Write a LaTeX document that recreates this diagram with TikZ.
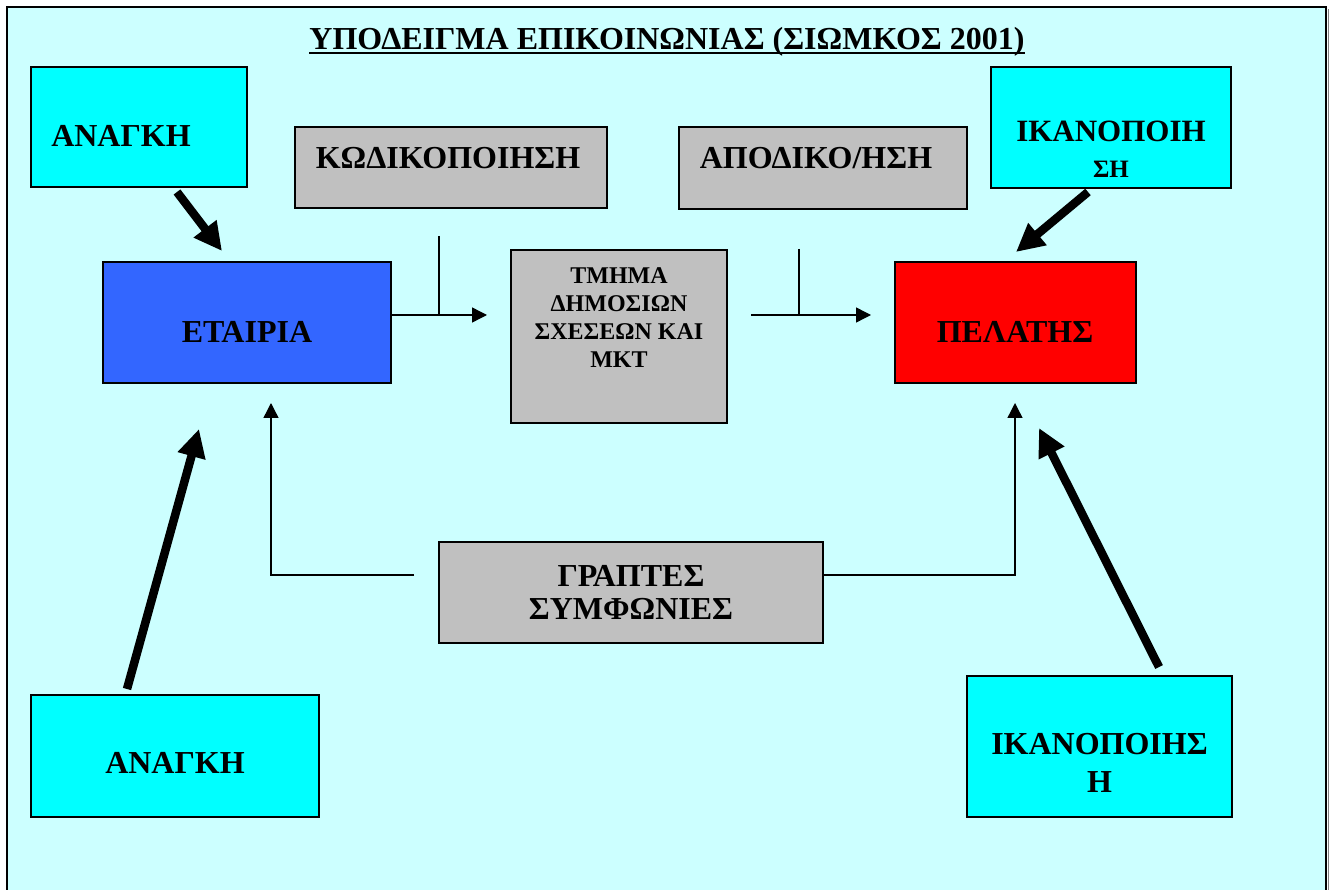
\documentclass[tikz,border=0pt]{standalone}
\usepackage{fontspec}
\setmainfont{Liberation Serif}
\usetikzlibrary{arrows.meta,calc}
\definecolor{bg}{HTML}{CCFFFF}
\definecolor{cyanbox}{HTML}{00FFFF}
\definecolor{graybox}{HTML}{C0C0C0}
\definecolor{bluebox}{HTML}{3366FF}
\definecolor{redbox}{HTML}{FF0000}
\definecolor{shadowgray}{HTML}{808080}
\newcommand{\nudge}[3]{\raisebox{#2}[\height][\depth]{\hspace*{#1}#3\hspace*{-#1}}}
\tikzset{
  box/.style={draw=black, line width=2pt, inner sep=0pt, align=center,
    font=\fontsize{32}{38}\selectfont\bfseries},
  cyanb/.style={box, fill=cyanbox},
  grayb/.style={box, fill=graybox},
  thinarrow/.style={line width=1.4pt, -{Triangle[length=15pt,width=15pt]}},
  thinline/.style={line width=1.4pt},
  thickarrow/.style={line width=8.5pt, -{Triangle[length=28pt,width=27pt]}},
}
\begin{document}
\begin{tikzpicture}[x=1pt,y=-1pt]
\useasboundingbox (0,0) rectangle (1331,890);
\clip (0,0) rectangle (1331,890);
\fill[white] (0,0) rectangle (1331,890);
\fill[bg] (7,7) rectangle (1326,900);
\draw[shadowgray, line width=1.5pt] (1328.5,9) -- (1328.5,900);
\draw[line width=2pt] (7,900) -- (7,7) -- (1326,7) -- (1326,900);

% title
\node[inner sep=0pt, anchor=base, font=\fontsize{32}{38}\selectfont\bfseries] (title) at (667,50)
  {ΥΠΟΔΕΙΓΜΑ ΕΠΙΚΟΙΝΩΝΙΑΣ (ΣΙΩΜΚΟΣ 2001)};
\draw[line width=2.5pt] ([yshift=-3pt]title.base west) -- ([yshift=-3pt]title.base east);

% boxes
\node[cyanb, minimum width=216pt, minimum height=120pt] (anA) at (139,127)
  {\nudge{-18pt}{-9pt}{ΑΝΑΓΚΗ}};
\node[grayb, minimum width=312pt, minimum height=81pt] (kod) at (451,168)
  {\nudge{-3pt}{10pt}{ΚΩΔΙΚΟΠΟΙΗΣΗ}};
\node[grayb, minimum width=288pt, minimum height=82pt] (apod) at (823,168)
  {\nudge{-7pt}{10pt}{ΑΠΟΔΙΚΟ/ΗΣΗ}};
\node[cyanb, minimum width=240pt, minimum height=121pt] (ikA) at (1111,127.5)
  {\nudge{0pt}{-24pt}{\begin{tabular}{@{}c@{}}{\fontsize{31}{36}\selectfont ΙΚΑΝΟΠΟΙΗ}\\[-2pt]{\fontsize{25}{28}\selectfont ΣΗ}\end{tabular}}};
\node[box, fill=bluebox, minimum width=288pt, minimum height=121pt] (etair) at (247,322.5)
  {\nudge{0pt}{-9pt}{ΕΤΑΙΡΙΑ}};
\node[grayb, minimum width=216pt, minimum height=173pt] (tmima) at (619,336.5)
  {\nudge{0pt}{17pt}{\fontsize{24}{28}\selectfont\begin{tabular}{@{}c@{}}ΤΜΗΜΑ\\ΔΗΜΟΣΙΩΝ\\ΣΧΕΣΕΩΝ ΚΑΙ\\ΜΚΤ\end{tabular}}};
\node[box, fill=redbox, minimum width=241pt, minimum height=121pt] (pel) at (1015,322.5)
  {\nudge{0pt}{-9pt}{ΠΕΛΑΤΗΣ}};
\node[grayb, minimum width=384pt, minimum height=101pt] (grap) at (631,592.5)
  {\nudge{0pt}{-4pt}{\fontsize{32}{33}\selectfont\begin{tabular}{@{}c@{}}ΓΡΑΠΤΕΣ\\ΣΥΜΦΩΝΙΕΣ\end{tabular}}};
\node[cyanb, minimum width=288pt, minimum height=122pt] (anB) at (175,756)
  {\nudge{0pt}{-7pt}{ΑΝΑΓΚΗ}};
\node[cyanb, minimum width=265pt, minimum height=141pt] (ikB) at (1099.5,746.5)
  {\nudge{0pt}{-19pt}{\fontsize{32}{38}\selectfont\begin{tabular}{@{}c@{}}ΙΚΑΝΟΠΟΙΗΣ\\Η\end{tabular}}};

% thin connectors
\coordinate (c1) at (487,315);
\coordinate (k1) at (439,236);
\draw[thinarrow] ([yshift=7.5pt]etair.east) -- (c1);
\draw[thinline] (k1) -- (k1 |- c1);

\coordinate (c2s) at (751,315);
\coordinate (c2) at (871,315);
\coordinate (k2) at (799,249);
\draw[thinarrow] (c2s) -- (c2);
\draw[thinline] (k2) -- (k2 |- c2);

\coordinate (c3) at (271,403);
\draw[thinarrow] ([xshift=-24pt,yshift=17.5pt]grap.west) -| (c3);
\coordinate (c4) at (1015,403);
\draw[thinarrow] ([yshift=17.5pt]grap.east) -| (c4);

% thick arrows
\coordinate (t1s) at (177,192);
\coordinate (t1e) at (222,251);
\draw[thickarrow] (t1s) -- (t1e);
\coordinate (t2s) at (127,689);
\coordinate (t2e) at (199,429);
\draw[thickarrow] (t2s) -- (t2e);
\coordinate (t3s) at (1088,192);
\coordinate (t3e) at (1016,252);
\draw[thickarrow] (t3s) -- (t3e);
\coordinate (t4s) at (1159,667);
\coordinate (t4e) at (1039,428);
\draw[thickarrow] (t4s) -- (t4e);
\end{tikzpicture}
\end{document}
